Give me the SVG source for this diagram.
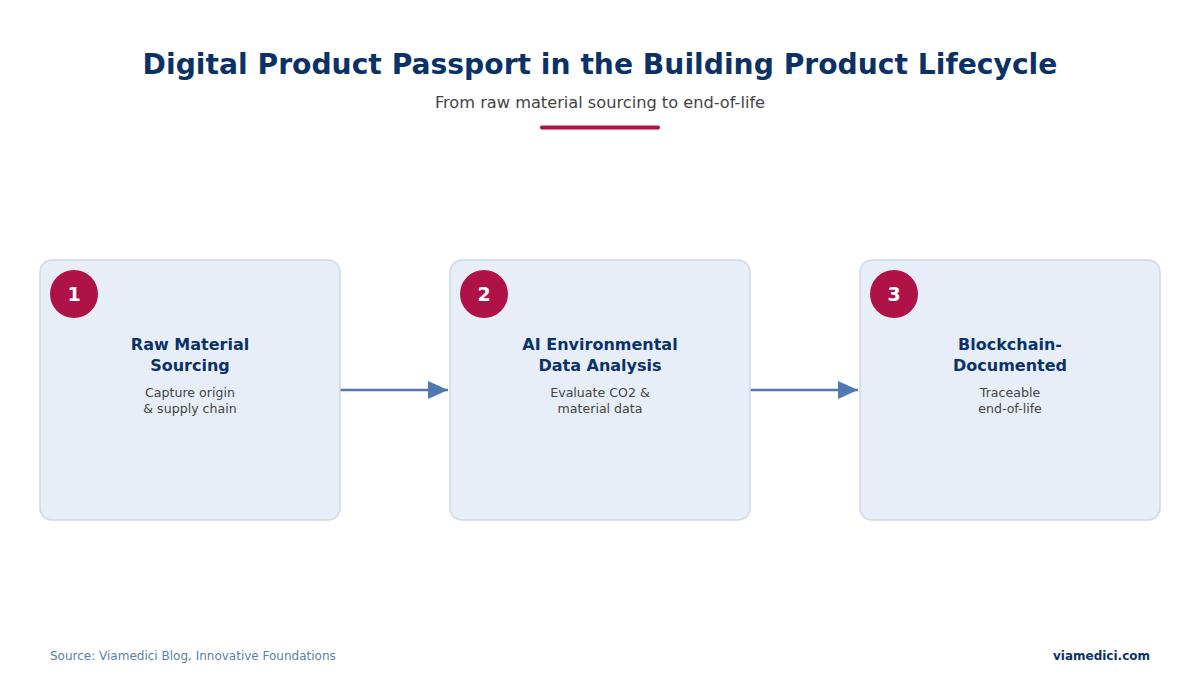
<svg xmlns="http://www.w3.org/2000/svg" width="1200" height="680" viewBox="0 0 1200 680">
<style>
text{font-family:"DejaVu Sans",sans-serif}
.box{fill:#e8eef7;stroke:#cdd8e8;stroke-width:1.5}
.badge{fill:#ae1246}
.num{fill:#fff;font-size:19px;font-weight:bold;text-anchor:middle}
.t{fill:#0b3266;font-size:16px;font-weight:bold;text-anchor:middle}
.d{fill:#444;font-size:12.6px;text-anchor:middle}
.conn{stroke:#4f79b0;stroke-width:2.5;fill:none}
</style>
<defs><marker id="ah" markerWidth="20" markerHeight="20" refX="20" refY="9" orient="auto" markerUnits="userSpaceOnUse"><path d="M0,0 L20,9 L0,18 Z" fill="#4f79b0"/></marker></defs>
<rect width="1200" height="680" fill="#fff"/>
<text x="600" y="74" font-size="28.2" font-weight="bold" fill="#0b3266" text-anchor="middle">Digital Product Passport in the Building Product Lifecycle</text>
<text x="600" y="108" font-size="16.2" fill="#444" text-anchor="middle">From raw material sourcing to end-of-life</text>
<line x1="542" y1="127.5" x2="658" y2="127.5" stroke="#ae1246" stroke-width="4" stroke-linecap="round"/>
<g id="connectors">
<line class="conn" x1="340" y1="390" x2="448" y2="390" marker-end="url(#ah)"/>
<line class="conn" x1="750" y1="390" x2="858" y2="390" marker-end="url(#ah)"/>
</g>
<g id="node1"><rect class="box" x="40" y="260" width="300" height="260" rx="12"/><circle class="badge" cx="74" cy="294" r="24"/><text class="num" x="74" y="301">1</text><text class="t" x="190" y="350">Raw Material</text><text class="t" x="190" y="371">Sourcing</text><text class="d" x="190" y="397">Capture origin</text><text class="d" x="190" y="413">&amp; supply chain</text></g>
<g id="node2"><rect class="box" x="450" y="260" width="300" height="260" rx="12"/><circle class="badge" cx="484" cy="294" r="24"/><text class="num" x="484" y="301">2</text><text class="t" x="600" y="350">AI Environmental</text><text class="t" x="600" y="371">Data Analysis</text><text class="d" x="600" y="397">Evaluate CO2 &amp;</text><text class="d" x="600" y="413">material data</text></g>
<g id="node3"><rect class="box" x="860" y="260" width="300" height="260" rx="12"/><circle class="badge" cx="894" cy="294" r="24"/><text class="num" x="894" y="301">3</text><text class="t" x="1010" y="350">Blockchain-</text><text class="t" x="1010" y="371">Documented</text><text class="d" x="1010" y="397">Traceable</text><text class="d" x="1010" y="413">end-of-life</text></g>
<text x="50" y="660" font-size="12" fill="#5a7fa8">Source: Viamedici Blog, Innovative Foundations</text>
<text x="1150" y="660" font-size="12" font-weight="bold" fill="#0b3266" text-anchor="end">viamedici.com</text>
</svg>
